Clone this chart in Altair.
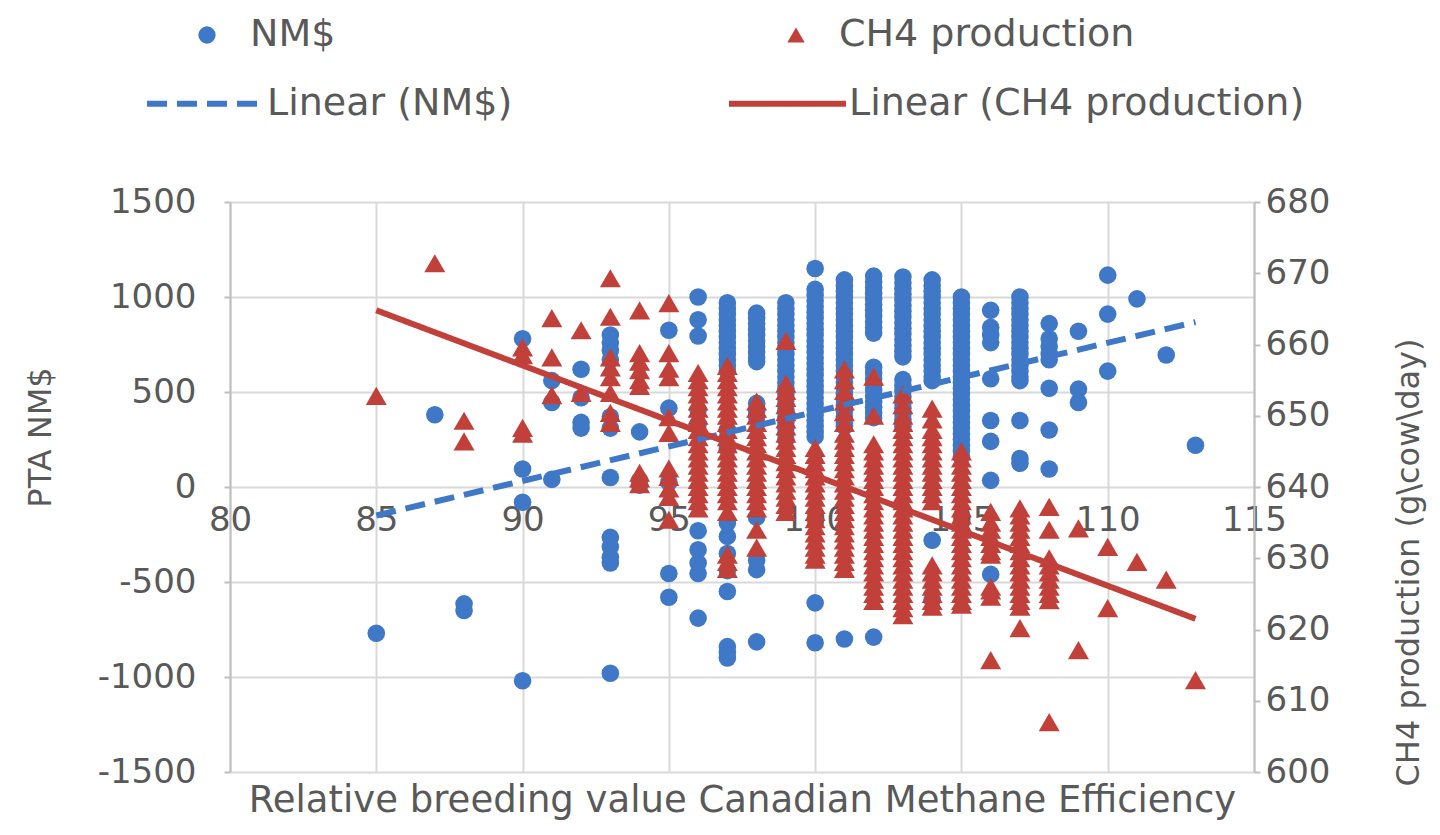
import altair as alt
import pandas as pd

BLUE = "#3F78C6"
RED = "#C1403A"
FONT = "DejaVu Sans"
TXT = "#595959"
GRID = "#D9D9D9"
AXIS = "#BFBFBF"

# PTA NM$ by relative breeding value (left axis)
NM_VALUES = {
    85: [-770],
    87: [380],
    88: [-615, -650],
    90: [780, 95, -80, -1020],
    91: [560, 445, 40],
    92: [620, 470, 340, 310],
    93: [800, 760, 720, 670, 370, 310, 50, -265, -315, -370, -400, -980],
    94: [290, 35, 10],
    95: [825, 415, 25, -455, -580],
    96: [1000, 880, 795, 405, 330, -230, -330, -400, -455, -690],
    97: [970, 940, 910, 880, 850, 820, 790, 760, 730, 700, 670, 640, 610, 300, 200,
         -190, -260, -350, -440, -550, -840, -870, -900],
    98: [915, 890, 860, 830, 800, 770, 740, 710, 680, 660, 440, 400, 370, -160, -385, -435, -815],
    99: [970, 940, 910, 880, 850, 820, 790, 760, 730, 700, 670, 640, 610, 580, 550, 520,
         490, 460, 430, 400, 370, 340, 310, 280, 250],
    100: [1150, 1040, 1010, 980, 950, 920, 890, 860, 830, 800, 770, 740, 710, 680, 650, 620,
          590, 560, 530, 500, 470, 440, 410, 380, 350, 320, 290, 265, -610, -820],
    101: [1090, 1060, 1030, 1000, 970, 940, 910, 880, 850, 820, 790, 760, 730, 700, 670, 640,
          610, 580, 550, 520, 490, 460, 430, 400, 370, 340, 320, -800],
    102: [1110, 1080, 1050, 1020, 990, 960, 930, 900, 870, 840, 810, 630, 600, 570, 540, 510,
          480, 450, 420, 390, 365, -790],
    103: [1105, 1075, 1045, 1015, 985, 955, 925, 895, 865, 835, 805, 775, 745, 715, 685, 565,
          535, 505, 475, 445, 415, 385, 355, 320],
    104: [1090, 1060, 1030, 1000, 970, 940, 910, 880, 850, 820, 790, 760, 730, 700, 670, 640,
          610, 580, 560, -280, -595],
    105: [1000, 970, 940, 910, 880, 850, 820, 790, 760, 730, 700, 670, 640, 610, 580, 550, 520,
          490, 460, 430, 400, 370, 340, 310, 280, 250, 220, 190, 160],
    106: [930, 840, 800, 760, 570, 350, 240, 35, -460],
    107: [1000, 970, 940, 910, 880, 850, 820, 790, 760, 730, 700, 670, 640, 610, 580, 560, 350, 150, 125],
    108: [860, 780, 740, 700, 670, 520, 300, 95],
    109: [820, 515, 445],
    110: [1115, 910, 610],
    111: [990],
    112: [695],
    113: [220],
}

# CH4 production (g/cow/day) by relative breeding value (right axis)
CH4_VALUES = {
    85: [652.8],
    87: [671.4],
    88: [649.3, 646.4],
    90: [659.6, 658.5, 648.3, 647.5],
    91: [663.7, 658.2, 652.9],
    92: [662.0, 653.2],
    93: [669.3, 663.9, 658.2, 656.8, 655.4, 653.2, 650.4, 649.0],
    94: [664.8, 658.8, 657.6, 656.4, 655.0, 654.2, 642.0, 641.2, 640.4],
    95: [665.8, 658.8, 656.6, 655.4, 649.8, 647.6, 642.6, 641.4, 639.8, 638.6, 635.4],
    96: [656, 655, 654, 653, 652, 651, 650, 649, 648, 647, 646, 645, 644, 643, 642, 641, 640,
         639, 638, 637],
    97: [657, 656, 655, 654, 653, 652, 651, 650, 649, 648, 647, 646, 645, 644, 643, 642, 641,
         640, 639, 638, 636.5, 630.5, 629.5, 628.5],
    98: [652, 651, 650, 649, 648, 647, 646, 645, 644, 643, 642, 641, 640, 639, 638, 637, 634, 631.5],
    99: [660.5, 654.5, 653.5, 652.5, 651.5, 650.5, 649.5, 648.5, 647.5, 646.5, 645.5, 644.5,
         643.5, 642.5, 641.5, 640.5, 639.5, 638.5, 637.5, 636.5],
    100: [645.5, 644.5, 643.5, 642.5, 641.5, 640.5, 639.5, 638.5, 637.5, 636.5, 635.5, 634.5,
          633.5, 632.5, 631.5, 630.5, 629.8],
    101: [656.5, 655, 653.5, 652, 650.5, 649, 647.5, 646.5, 645.5, 644.5, 643.5, 642.5, 641.5,
          640.5, 639.5, 638.5, 637.5, 636.5, 635.5, 634.5, 633.5, 632.5, 631.5, 630.5, 629.5, 628.5],
    102: [655.5, 650, 646, 645, 644, 643, 642, 641, 640, 639, 638, 637, 636, 635, 634, 633, 632,
          631, 630, 629, 628, 627, 626, 625, 624],
    103: [653, 651.5, 650, 649, 648, 647, 646, 645, 644, 643, 642, 641, 640, 639, 638, 637, 636,
          635, 634, 633, 632, 631, 630, 629, 628, 627, 626, 625, 624, 623, 622],
    104: [651, 649.5, 648, 647, 646, 645, 644, 643, 642, 641, 640, 639, 638, 629, 628, 627, 626,
          625, 624, 623.2],
    105: [645, 644, 643, 642, 641, 640, 639, 638, 637, 636, 635, 634, 633, 632, 631, 630, 629,
          628, 627, 626, 625, 624, 623.5],
    106: [636.5, 635, 634, 633, 632, 631, 630.5, 626, 625.5, 624.6, 615.7],
    107: [637, 636, 635, 634, 633, 632, 631, 630, 629, 628, 627, 626, 625, 624, 623.2, 620.2],
    108: [637.2, 634, 630, 629, 628, 627, 626, 625, 624.1, 607],
    109: [634.2, 617.1],
    110: [631.6, 623],
    111: [629.5],
    112: [627],
    113: [612.9],
}

TREND_X = [85, 113]
NM_TREND = [-150, 868]
CH4_TREND = [664.8, 621.5]

SERIES = ["NM$", "CH4 production"]
TRENDS = ["Linear (NM$)", "Linear (CH4 production)"]

nm_df = pd.DataFrame([(x, v) for x, vs in NM_VALUES.items() for v in vs], columns=["rbv", "value"])
nm_df["series"] = SERIES[0]
ch4_df = pd.DataFrame([(x, v) for x, vs in CH4_VALUES.items() for v in vs], columns=["rbv", "value"])
ch4_df["series"] = SERIES[1]
nm_tr = pd.DataFrame({"rbv": TREND_X, "value": NM_TREND, "trend": TRENDS[0]})
ch4_tr = pd.DataFrame({"rbv": TREND_X, "value": CH4_TREND, "trend": TRENDS[1]})

x_enc = alt.X(
    "rbv:Q",
    scale=alt.Scale(domain=[80, 115], nice=False, zero=False),
    axis=alt.Axis(
        values=[80, 85, 90, 95, 100, 105, 110, 115],
        title="Relative breeding value Canadian Methane Efficiency",
        labelPadding=-269, labelFlush=False, labelOverlap=False,
        domain=False, ticks=False, grid=True, gridColor=GRID, gridWidth=2,
        labelFont=FONT, labelFontSize=34, labelColor=TXT,
        titleFont=FONT, titleFontSize=37, titleFontWeight="normal", titleColor=TXT,
        titleY=28, titleBaseline="middle",
    ),
)

left_scale = alt.Scale(domain=[-1500, 1500], nice=False, zero=False)
right_scale = alt.Scale(domain=[600, 680], nice=False, zero=False)

left_axis = alt.Axis(
    orient="left", values=[-1500, -1000, -500, 0, 500, 1000, 1500],
    labelExpr="'' + datum.value",
    title="PTA NM$", grid=True, gridColor=GRID, gridWidth=2,
    domain=True, domainColor=AXIS, domainWidth=2, ticks=True, tickColor=AXIS, tickSize=6, tickWidth=2,
    labelPadding=28, labelFont=FONT, labelFontSize=34, labelColor=TXT,
    titleFont=FONT, titleFontSize=32, titleFontWeight="normal", titleColor=TXT,
    titleAngle=270, titleBaseline="middle", titleAlign="center", titleX=-190, titleY=235,
)
right_axis = alt.Axis(
    orient="right", values=[600, 610, 620, 630, 640, 650, 660, 670, 680],
    labelExpr="'' + datum.value",
    title="CH4 production (g\\cow\\day)", grid=False,
    domain=True, domainColor=AXIS, domainWidth=2, ticks=True, tickColor=AXIS, tickSize=6, tickWidth=2,
    labelPadding=5, labelFont=FONT, labelFontSize=34, labelColor=TXT,
    titleFont=FONT, titleFontSize=32, titleFontWeight="normal", titleColor=TXT,
    titleAngle=270, titleBaseline="middle", titleAlign="center", titleX=154, titleY=360,
)

point_legend = alt.Legend(
    title=None, orient="none", legendX=-42, legendY=-186, columns=2, columnPadding=441,
    padding=0, symbolSize=300, labelOffset=24, labelFont=FONT, labelFontSize=38,
    labelColor=TXT, labelLimit=600, labelBaseline="middle",
)
line_legend = alt.Legend(
    title=None, orient="none", legendX=-86, legendY=-160, columns=2, columnPadding=204,
    padding=0, symbolType="stroke", symbolSize=13689, symbolStrokeWidth=6, labelOffset=0,
    labelFont=FONT, labelFontSize=38, labelColor=TXT, labelLimit=600, labelBaseline="middle",
)

color_enc = alt.Color("series:N", scale=alt.Scale(domain=SERIES, range=[BLUE, RED]), legend=point_legend)
shape_enc = alt.Shape("series:N", scale=alt.Scale(domain=SERIES, range=["circle", "triangle-up"]),
                      legend=point_legend)
stroke_enc = alt.Stroke("trend:N", scale=alt.Scale(domain=TRENDS, range=[BLUE, RED]), legend=line_legend)
dash_enc = alt.StrokeDash("trend:N", scale=alt.Scale(domain=TRENDS, range=[[20, 10], [1, 0]]),
                          legend=line_legend)

nm_points = alt.Chart(nm_df).mark_point(filled=True, size=310, opacity=1).encode(
    x=x_enc, y=alt.Y("value:Q", scale=left_scale, axis=left_axis), color=color_enc, shape=shape_enc)
ch4_points = alt.Chart(ch4_df).mark_point(filled=True, size=440, opacity=1).encode(
    x=x_enc, y=alt.Y("value:Q", scale=right_scale, axis=right_axis), color=color_enc, shape=shape_enc)
nm_line = alt.Chart(nm_tr).mark_line(strokeWidth=6, strokeCap="butt").encode(
    x=x_enc, y=alt.Y("value:Q", scale=left_scale, axis=None), stroke=stroke_enc, strokeDash=dash_enc)
ch4_line = alt.Chart(ch4_tr).mark_line(strokeWidth=6, strokeCap="butt").encode(
    x=x_enc, y=alt.Y("value:Q", scale=right_scale, axis=None), stroke=stroke_enc, strokeDash=dash_enc)

chart = alt.layer(nm_points, ch4_points, nm_line, ch4_line).resolve_scale(
    y="independent"
).properties(
    width=1024, height=570,
    autosize=alt.AutoSizeParams(type="none"),
    padding={"left": 222, "top": 194, "right": 178, "bottom": 50},
).configure_view(stroke=None).configure(background="white")

chart.save("out.html", embed_options={"renderer": "svg", "actions": False})
